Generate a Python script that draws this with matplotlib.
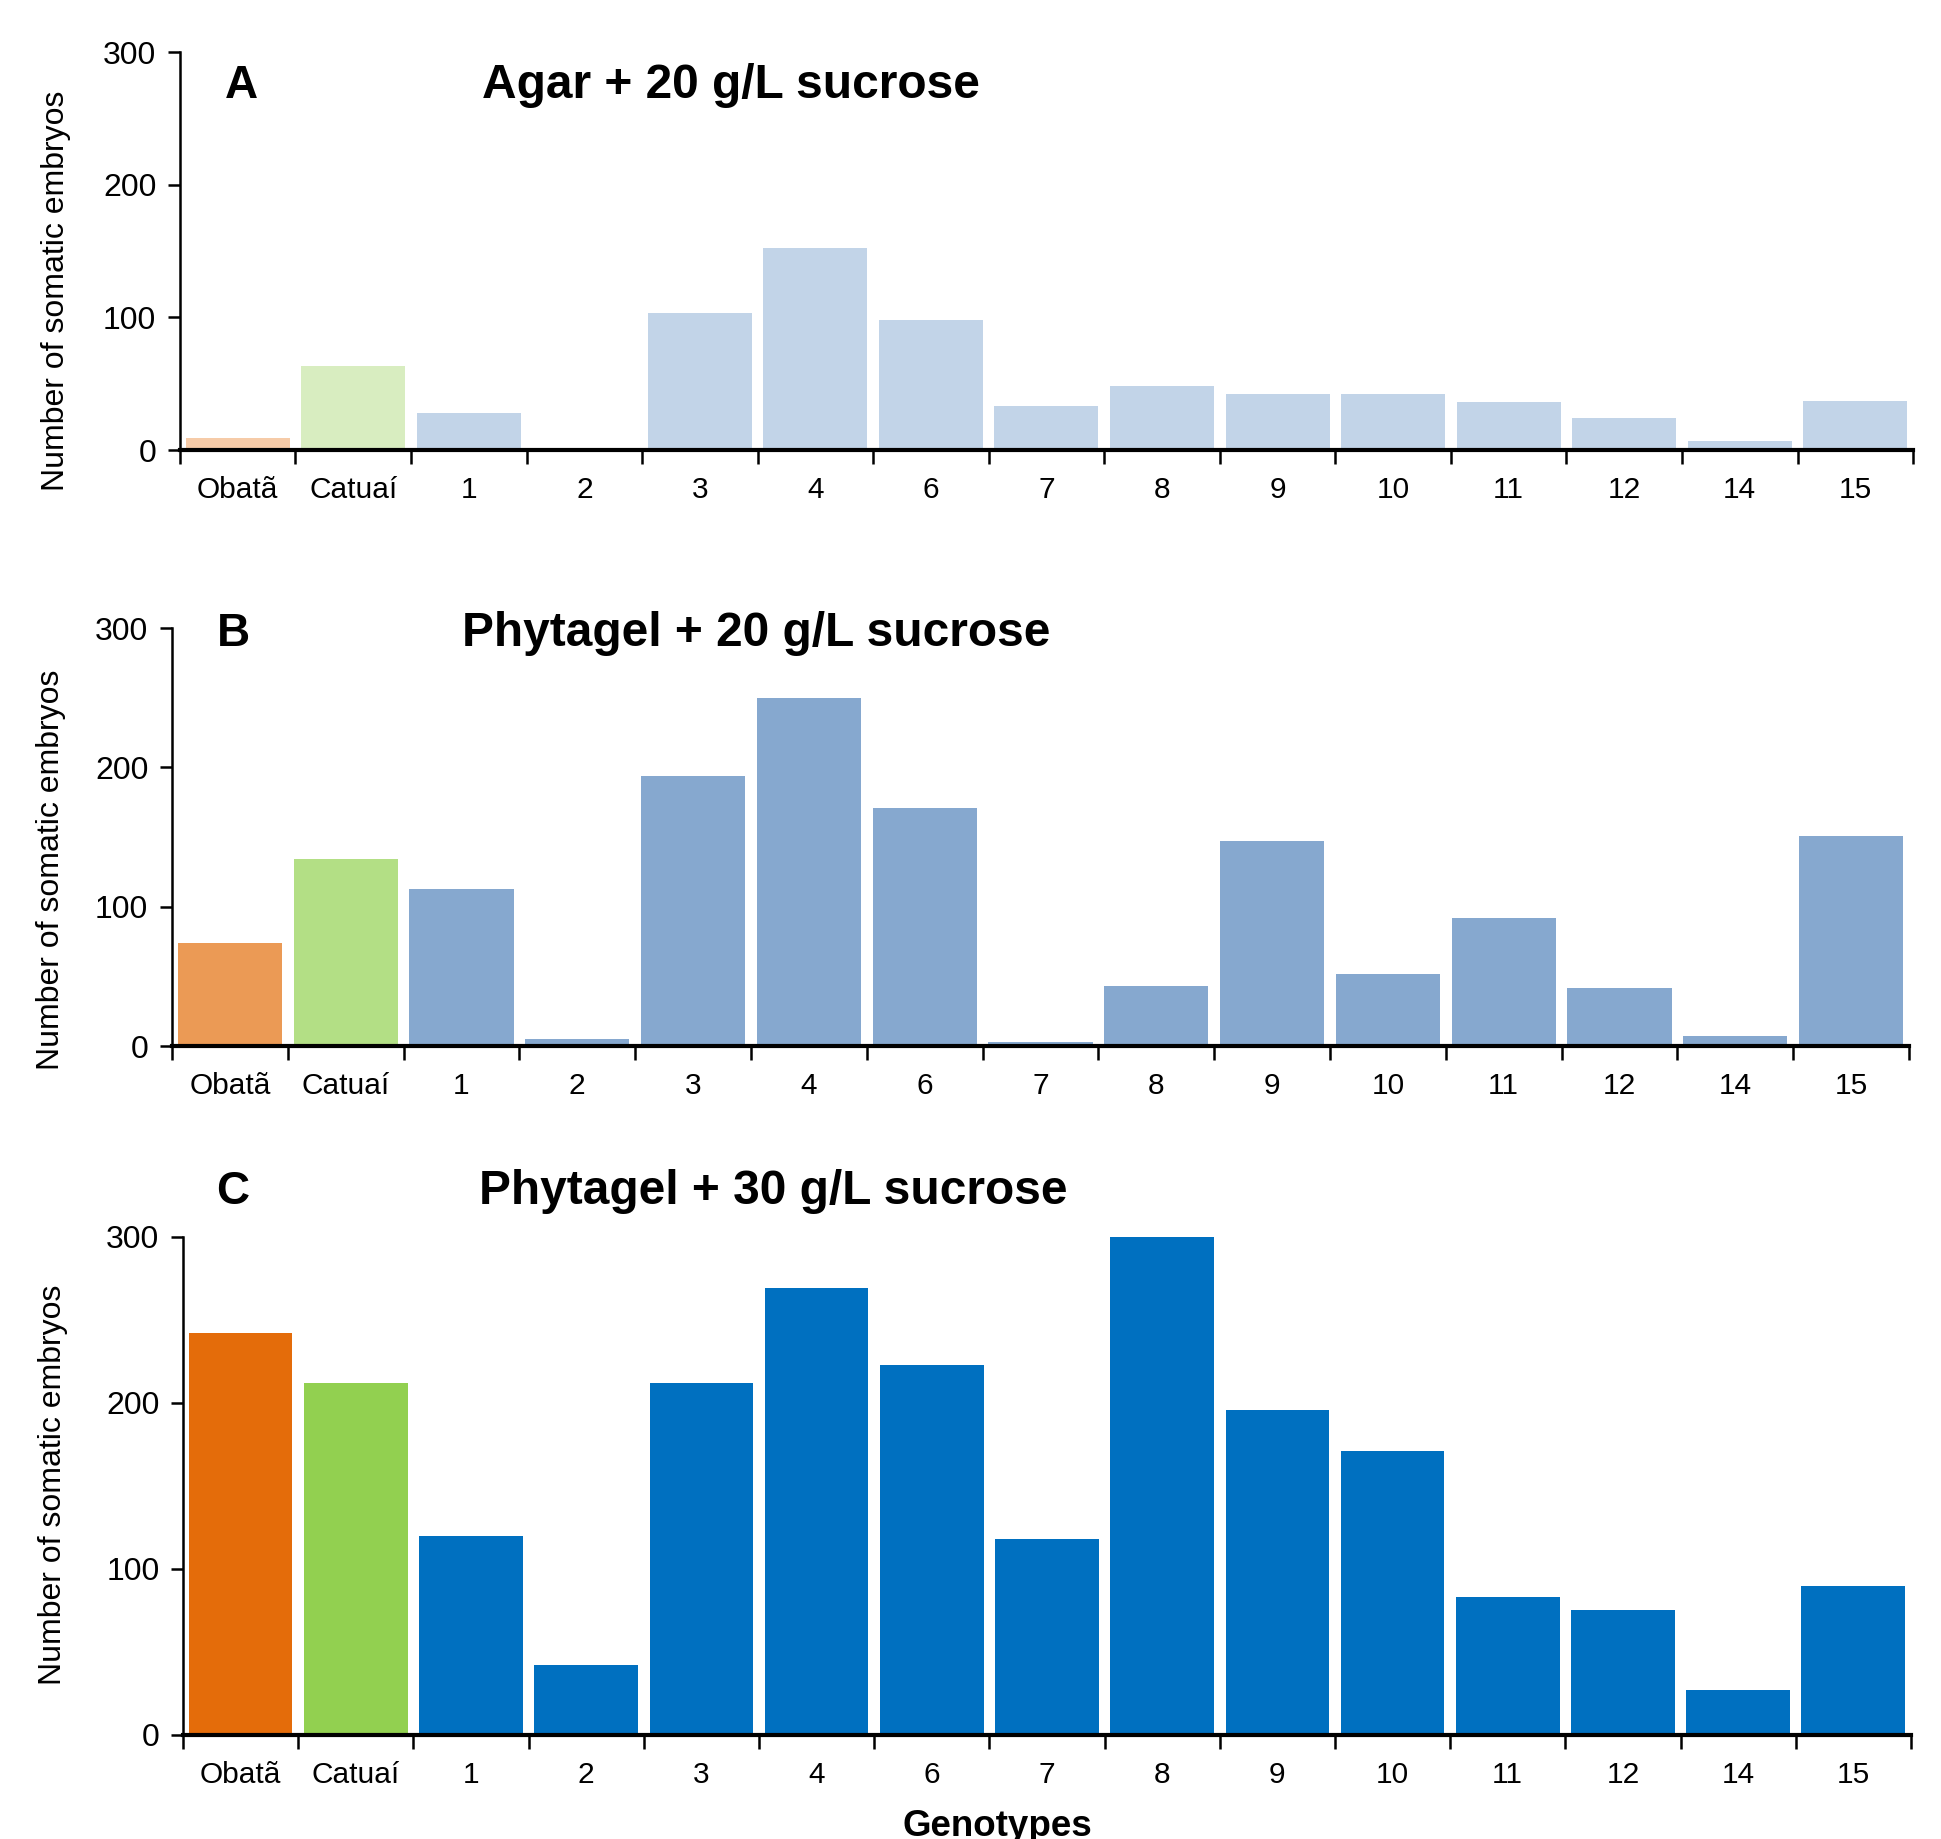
import numpy as np
import matplotlib
matplotlib.use("Agg")
import matplotlib.pyplot as plt

plt.rcParams['font.family'] = ['Liberation Sans', 'DejaVu Sans']

genotypes = ["Obatã", "Catuaí", "1", "2", "3", "4", "6", "7", "8", "9",
             "10", "11", "12", "14", "15"]

# embryo counts
agar_20 = [9, 63, 28, 1.5, 103, 152, 98, 33, 48, 42, 42, 36, 24, 7, 37]
phyta_20 = [74, 134, 113, 5, 194, 250, 171, 2.7, 43, 147, 52, 92, 42, 7, 151]
phyta_30 = [242, 212, 120, 42, 212, 269, 223, 118, 300, 196, 171, 83, 75, 27, 90]

panels = [
    ("A", "Agar + 20 g/L sucrose", agar_20,
     ["#F6CBA8", "#D8EDC0", "#C2D4E8"]),
    ("B", "Phytagel + 20 g/L sucrose", phyta_20,
     ["#EB9A55", "#B3DF85", "#86A8CF"]),
    ("C", "Phytagel + 30 g/L sucrose", phyta_30,
     ["#E46C0A", "#92D050", "#0070C0"]),
]

# axes boxes in figure fraction [left, bottom, width, height]
boxes = [
    [0.0927, 0.7553, 0.8929, 0.2164],
    [0.0886, 0.4312, 0.8949, 0.2273],
    [0.0943, 0.0566, 0.8902, 0.2708],
]
# letter / title / y label positions (figure pixels from top-left)
letter_xy = [(241, 86), (233, 634), (233, 1192)]
title_xy = [(731, 86), (756, 634), (773, 1192)]
ylab_xy = [(56, 291), (51, 870), (53, 1485)]

W, H = 1941, 1839
fig = plt.figure(figsize=(W / 100, H / 100), dpi=100)

x = np.arange(len(genotypes))
for (letter, title, vals, cols), box, lxy, txy, yxy in zip(panels, boxes, letter_xy, title_xy, ylab_xy):
    ax = fig.add_axes(box)
    colors = [cols[0], cols[1]] + [cols[2]] * (len(genotypes) - 2)
    ax.bar(x, vals, width=0.9, color=colors, zorder=2)
    ax.set_xlim(-0.5, len(genotypes) - 0.5)
    ax.set_ylim(0, 300)
    ax.set_yticks([0, 100, 200, 300])
    ax.tick_params(axis='y', labelsize=23, length=9, width=1.8, pad=8)

    # category boundaries carry the ticks, labels sit in the middle
    ax.set_xticks(np.arange(-0.5, len(genotypes), 1.0))
    ax.set_xticklabels([])
    ax.set_xticks(x, minor=True)
    ax.set_xticklabels(genotypes, minor=True)
    ax.tick_params(axis='x', which='major', length=10, width=1.8)
    ax.tick_params(axis='x', which='minor', length=0, labelsize=21.5, pad=19)

    for s in ['top', 'right']:
        ax.spines[s].set_visible(False)
    ax.spines['left'].set_linewidth(1.8)
    ax.spines['bottom'].set_linewidth(3)
    ax.spines['bottom'].set_zorder(3)

    fig.text(yxy[0] / W, 1 - yxy[1] / H, "Number of somatic embryos", fontsize=23,
             rotation=90, ha='center', va='center')
    fig.text(lxy[0] / W, 1 - lxy[1] / H, letter, fontsize=33, fontweight='bold',
             ha='center', va='center')
    fig.text(txy[0] / W, 1 - txy[1] / H, title, fontsize=34.5, fontweight='bold',
             ha='center', va='center')

fig.text(997 / W, 1 - 1826 / H, "Genotypes", fontsize=26.5, fontweight='bold',
         ha='center', va='center')

fig.savefig("out.png", dpi=100)
